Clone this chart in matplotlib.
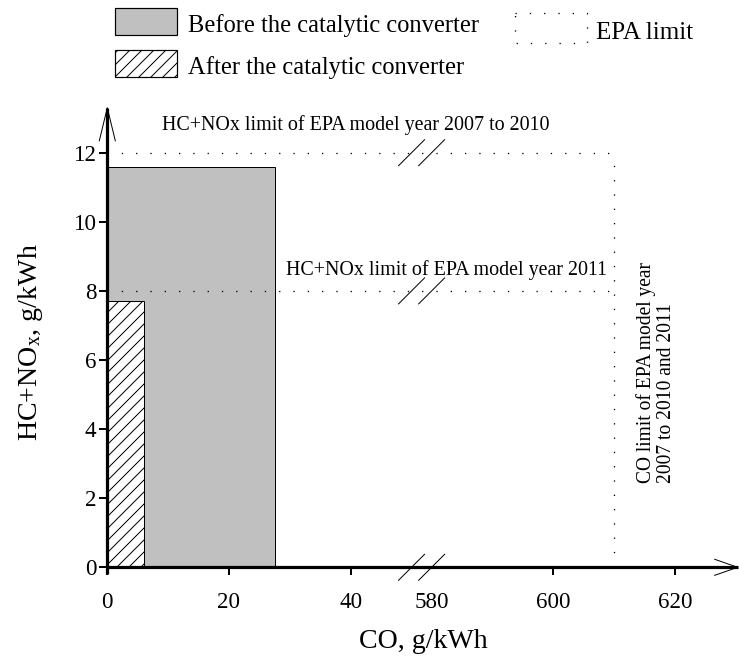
import matplotlib
matplotlib.use("Agg")
import matplotlib.pyplot as plt
from matplotlib.patches import Rectangle
from matplotlib.lines import Line2D

plt.rcParams['font.family'] = ['Liberation Serif', 'DejaVu Serif']
plt.rcParams['mathtext.fontset'] = 'custom'
plt.rcParams['mathtext.rm'] = 'Liberation Serif'
plt.rcParams['mathtext.it'] = 'Liberation Serif:italic'
plt.rcParams['hatch.linewidth'] = 1.0

# ---------------- data ----------------
series_names = ["Before the catalytic converter", "After the catalytic converter"]
co_values = [27.6, 6.1]            # CO, g/kWh
hcnox_values = [11.6, 7.7]         # HC+NOx, g/kWh
hcnox_limits = [12, 8]             # EPA HC+NOx limits
hcnox_limit_labels = ["HC+NOx limit of EPA model year 2007 to 2010",
                      "HC+NOx limit of EPA model year 2011"]
co_limit = 610                     # EPA CO limit
co_limit_label = "CO limit of EPA model year\n2007 to 2010 and 2011"
x_ticks = [0, 20, 40, 580, 600, 620]
y_ticks = [0, 2, 4, 6, 8, 10, 12]

# broken x axis: [0, 50] joined to [580, ...]
BREAK_LO = 50.0
BREAK_HI = 580.0
BREAK_GAP = 3.3


def u(co):
    if co <= BREAK_LO:
        return co
    return co - BREAK_HI + BREAK_LO + BREAK_GAP


W, H, DPI = 739, 664, 72
fig = plt.figure(figsize=(W / DPI, H / DPI), dpi=DPI)

X0, Y0 = 107.3, 567.3      # pixel origin
SX, SY = 6.085, 34.55      # px per unit
XMAX, YMAX = 103.6, 13.3
ax = fig.add_axes([X0 / W, (H - Y0) / H, XMAX * SX / W, YMAX * SY / H])
ax.set_xlim(0, XMAX)
ax.set_ylim(0, YMAX)
for s in ax.spines.values():
    s.set_visible(False)
ax.patch.set_visible(False)

# bars
fills = [dict(facecolor='#c0c0c0', hatch=None), dict(facecolor='white', hatch='//')]
for co, hc, f in zip(co_values, hcnox_values, fills):
    ax.add_patch(Rectangle((0, 0), u(co), hc, facecolor=f['facecolor'],
                           edgecolor='black', linewidth=1.0, hatch=f['hatch'], zorder=2))

# EPA limits (dotted)
dot = dict(color='black', linewidth=1.3, linestyle=(0, (1, 10)), zorder=3)
for lim in hcnox_limits:
    ax.plot([0, u(co_limit)], [lim, lim], **dot)
ax.plot([u(co_limit), u(co_limit)], [0, max(hcnox_limits)], **dot)

# limit labels
ax.text(9.0, 12.8, hcnox_limit_labels[0], fontsize=20, ha='left', va='center')
ax.text(82.2, 8.6, hcnox_limit_labels[1], fontsize=20, ha='right', va='center')
ax.text(u(616.9), 2.44, co_limit_label, fontsize=19.5, rotation=90,
        ha='center', va='bottom', multialignment='left', linespacing=1.12)

# axes lines with open arrow heads
axis_kw = dict(color='black', linewidth=3.2, clip_on=False, zorder=4,
               solid_capstyle='butt')
ax.add_line(Line2D([-0.2, XMAX], [0, 0], **axis_kw))
ax.add_line(Line2D([0, 0], [-0.2, YMAX], **axis_kw))
head = dict(color='black', linewidth=1.0, clip_on=False, zorder=4)
ax.add_line(Line2D([XMAX - 23 / SX, XMAX, XMAX - 23 / SX],
                   [8 / SY, 0, -8 / SY], **head))
ax.add_line(Line2D([-8 / SX, 0, 8 / SX],
                   [YMAX - 33 / SY, YMAX, YMAX - 33 / SY], **head))

# break marks
for yb in [0] + hcnox_limits:
    for xb in (BREAK_LO, u(BREAK_HI)):
        ax.add_line(Line2D([xb - 13 / SX, xb + 13 / SX],
                           [yb - 13 / SY, yb + 13 / SY],
                           color='black', linewidth=1.0, clip_on=False, zorder=5))

# ticks
ax.set_xticks([u(v) for v in x_ticks])
ax.set_xticklabels([str(v) for v in x_ticks])
ax.set_yticks(y_ticks)
ax.set_yticklabels([str(v) for v in y_ticks])
ax.tick_params(axis='both', direction='out', length=7.7, width=2.0, labelsize=23)
ax.tick_params(axis='x', pad=17)
ax.tick_params(axis='y', pad=3)
ax.xaxis.get_major_ticks()[3].tick1line.set_visible(False)

# overlay axes in pixel units for labels and legend
ov = fig.add_axes([0, 0, 1, 1])
ov.set_xlim(0, W)
ov.set_ylim(H, 0)
ov.axis('off')

ov.text(423, 642, "CO, g/kWh", fontsize=28, ha='center', va='center')
ov.text(31, 342, r"HC+NO$_\mathregular{x}$, g/kWh", fontsize=28, rotation=90,
        ha='center', va='center')

# legend
ov.add_patch(Rectangle((115, 8), 62, 27, facecolor='#c0c0c0', edgecolor='black', linewidth=1.2))
ov.add_patch(Rectangle((115, 50), 62, 27, facecolor='white', edgecolor='black',
                       linewidth=1.2, hatch='//'))
ov.text(188, 31.7, series_names[0], fontsize=24.5, ha='left', va='baseline')
ov.text(188, 74, series_names[1], fontsize=24.5, ha='left', va='baseline')
ov.add_patch(Rectangle((515, 13), 72, 30, facecolor='none', edgecolor='black',
                       linewidth=1.3, linestyle=(0, (1, 10))))
ov.text(596, 39, "EPA limit", fontsize=25, ha='left', va='baseline')

fig.savefig("out.png", dpi=DPI)
